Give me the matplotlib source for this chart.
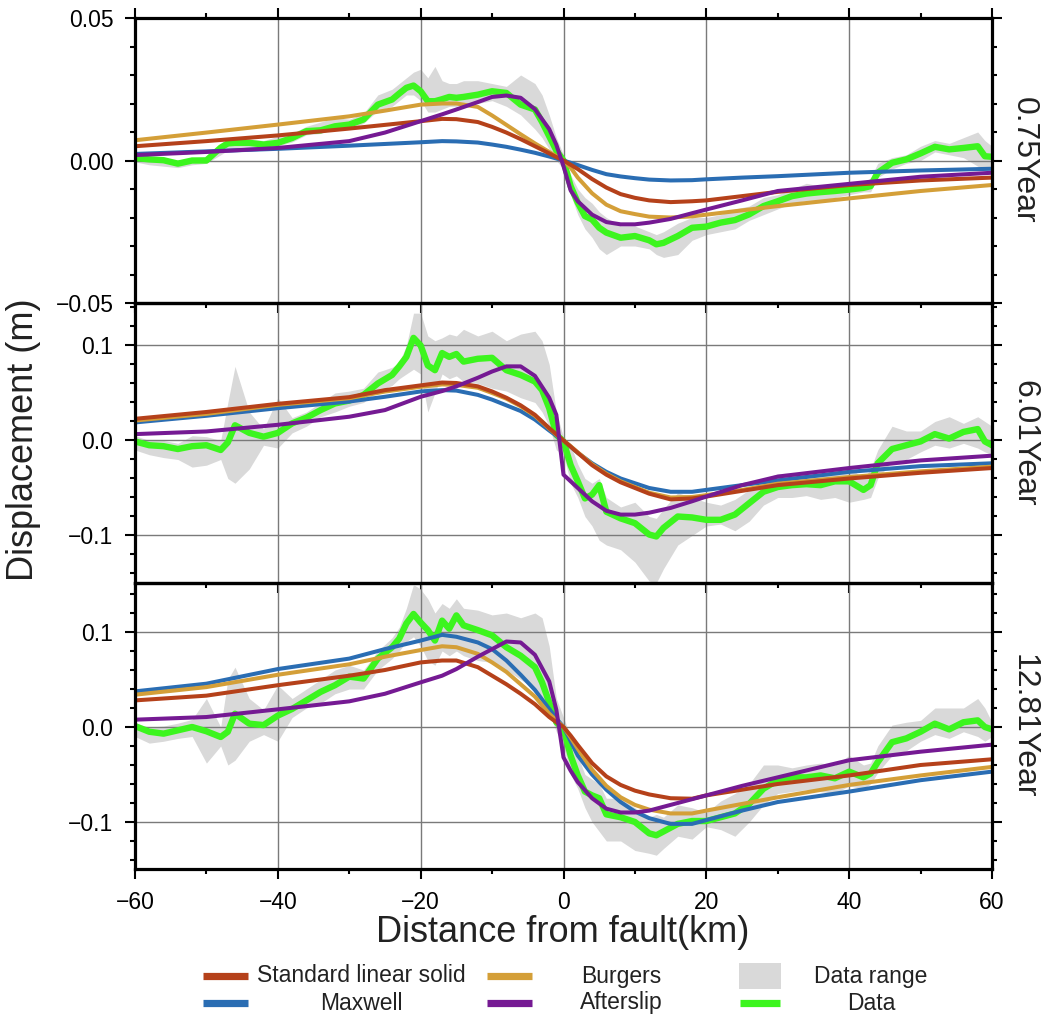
import numpy as np
import matplotlib
matplotlib.use("Agg")
import matplotlib.pyplot as plt
from matplotlib.ticker import MultipleLocator, FixedLocator, FuncFormatter
from matplotlib.lines import Line2D
from matplotlib.patches import Rectangle

plt.rcParams['font.family'] = ['Liberation Sans', 'DejaVu Sans']

# ---------------------------------------------------------------- model profiles
model_x = [-60, -50, -40, -30, -25, -20, -17, -15, -12, -10, -8, -6, -4, -2, -1, 0,
           1, 2, 4, 6, 8, 10, 12, 15, 18, 20, 25, 30, 40, 50, 60]

p1_sls = [0.0050, 0.0068, 0.0088, 0.0112, 0.0125, 0.0138, 0.0146, 0.0145, 0.0135, 0.0118,
          0.0098, 0.0075, 0.0050, 0.0025, 0.0012, 0.0, -0.0015, -0.0030, -0.0065, -0.0095,
          -0.0118, -0.0131, -0.0140, -0.0146, -0.0143, -0.0140, -0.0125, -0.0110, -0.0086,
          -0.0070, -0.0060]
p1_burgers = [0.0071, 0.0098, 0.0126, 0.0155, 0.0175, 0.0196, 0.0200, 0.0200, 0.0188, 0.0158,
              0.0125, 0.0092, 0.0060, 0.0030, 0.0015, 0.0, -0.0025, -0.0060, -0.0115, -0.0155,
              -0.0178, -0.0188, -0.0197, -0.0200, -0.0196, -0.0190, -0.0175, -0.0160, -0.0133,
              -0.0107, -0.0086]
p1_maxwell = [0.0023, 0.0032, 0.0041, 0.0052, 0.0058, 0.0064, 0.0068, 0.0067, 0.0063, 0.0056,
              0.0048, 0.0038, 0.0027, 0.0014, 0.0007, 0.0, -0.0008, -0.0016, -0.0033, -0.0048,
              -0.0056, -0.0062, -0.0067, -0.0070, -0.0069, -0.0066, -0.0060, -0.0055, -0.0043,
              -0.0035, -0.0029]
p1_afterslip = [0.0019, 0.0030, 0.0044, 0.0068, 0.0098, 0.0138, 0.0162, 0.0179, 0.0205, 0.0223,
                0.0228, 0.0220, 0.0180, 0.0110, 0.0055, -0.0020, -0.0105, -0.0143, -0.0190, -0.0216,
                -0.0224, -0.0224, -0.0218, -0.0205, -0.0185, -0.0172, -0.0140, -0.0107, -0.0082,
                -0.0057, -0.0043]

p2_sls = [0.0228, 0.0300, 0.0386, 0.0456, 0.0530, 0.0580, 0.0610, 0.0605, 0.0570, 0.0516,
          0.0450, 0.0370, 0.0270, 0.0130, 0.0065, 0.0, -0.0065, -0.0130, -0.0260, -0.0360,
          -0.0440, -0.0500, -0.0560, -0.0620, -0.0610, -0.0590, -0.0530, -0.0470, -0.0400,
          -0.0340, -0.0290]
p2_burgers = [0.0210, 0.0280, 0.0375, 0.0445, 0.0515, 0.0565, 0.0590, 0.0585, 0.0555, 0.0500,
              0.0440, 0.0360, 0.0260, 0.0125, 0.0060, 0.0, -0.0060, -0.0125, -0.0250, -0.0350,
              -0.0430, -0.0490, -0.0550, -0.0600, -0.0595, -0.0575, -0.0520, -0.0455, -0.0385,
              -0.0325, -0.0275]
p2_maxwell = [0.0190, 0.0260, 0.0340, 0.0410, 0.0460, 0.0516, 0.0530, 0.0525, 0.0480, 0.0430,
              0.0370, 0.0310, 0.0220, 0.0105, 0.0050, 0.0, -0.0065, -0.0130, -0.0240, -0.0330,
              -0.0400, -0.0450, -0.0500, -0.0540, -0.0540, -0.0520, -0.0470, -0.0420, -0.0330,
              -0.0270, -0.0240]
p2_afterslip = [0.0067, 0.0095, 0.0165, 0.0250, 0.0320, 0.0460, 0.0520, 0.0570, 0.0660, 0.0726,
                0.0780, 0.0780, 0.0680, 0.0450, 0.0270, -0.0360, -0.0430, -0.0500, -0.0640, -0.0740,
                -0.0780, -0.0780, -0.0760, -0.0710, -0.0640, -0.0590, -0.0470, -0.0380, -0.0290,
                -0.0210, -0.0160]

p3_sls = [0.0280, 0.0330, 0.0440, 0.0540, 0.0600, 0.0680, 0.0700, 0.0700, 0.0630, 0.0540,
          0.0450, 0.0350, 0.0240, 0.0105, 0.0050, 0.0, -0.0090, -0.0190, -0.0380, -0.0520,
          -0.0610, -0.0670, -0.0710, -0.0750, -0.0755, -0.0720, -0.0660, -0.0600, -0.0510,
          -0.0400, -0.0340]
p3_burgers = [0.0340, 0.0420, 0.0550, 0.0660, 0.0740, 0.0810, 0.0850, 0.0840, 0.0770, 0.0680,
              0.0580, 0.0450, 0.0320, 0.0140, 0.0070, 0.0, -0.0110, -0.0230, -0.0450, -0.0620,
              -0.0740, -0.0820, -0.0870, -0.0910, -0.0910, -0.0880, -0.0810, -0.0740, -0.0610,
              -0.0510, -0.0420]
p3_maxwell = [0.0375, 0.0456, 0.0610, 0.0720, 0.0820, 0.0910, 0.0970, 0.0950, 0.0890, 0.0820,
              0.0700, 0.0550, 0.0390, 0.0190, 0.0090, 0.0, -0.0150, -0.0300, -0.0500, -0.0660,
              -0.0790, -0.0890, -0.0960, -0.1020, -0.1020, -0.0980, -0.0880, -0.0790, -0.0680,
              -0.0560, -0.0470]
p3_afterslip = [0.0077, 0.0105, 0.0186, 0.0270, 0.0350, 0.0470, 0.0540, 0.0610, 0.0740, 0.0820,
                0.0900, 0.0890, 0.0760, 0.0480, 0.0180, -0.0320, -0.0460, -0.0580, -0.0750, -0.0860,
                -0.0900, -0.0900, -0.0880, -0.0820, -0.0760, -0.0720, -0.0620, -0.0530, -0.0350,
                -0.0260, -0.0186]

# ---------------------------------------------------------------- observed profiles
data_x = [-60, -58, -56, -54, -52, -50, -48, -47, -46, -44,
          -42, -40, -38, -36, -34, -32, -30, -28, -26, -24,
          -23, -22, -21, -20, -19, -18, -17, -16, -15, -14,
          -12, -10, -8, -6, -4, -3, -2, -1, 0, 1,
          2, 3, 4, 5, 6, 8, 10, 12, 13, 14,
          16, 18, 20, 22, 24, 26, 28, 30, 32, 34,
          36, 38, 40, 42, 43, 44, 46, 48, 50, 52,
          54, 56, 58, 59, 60]

p1_data = [0.0009, 0.0004, 0.0001, -0.0011, 0.0000, 0.0000, 0.0045, 0.0060, 0.0062, 0.0062,
           0.0056, 0.0062, 0.0079, 0.0103, 0.0106, 0.0120, 0.0126, 0.0144, 0.0196, 0.0214,
           0.0235, 0.0255, 0.0263, 0.0243, 0.0208, 0.0208, 0.0215, 0.0223, 0.0220, 0.0223,
           0.0231, 0.0243, 0.0237, 0.0196, 0.0179, 0.0135, 0.0085, 0.0035, 0.0000, -0.0090,
           -0.0148, -0.0195, -0.0207, -0.0236, -0.0253, -0.0271, -0.0265, -0.0280, -0.0294, -0.0289,
           -0.0265, -0.0236, -0.0232, -0.0218, -0.0209, -0.0189, -0.0160, -0.0143, -0.0125, -0.0116,
           -0.0111, -0.0107, -0.0102, -0.0096, -0.0090, -0.0043, -0.0008, 0.0004, 0.0025, 0.0048,
           0.0039, 0.0044, 0.0050, 0.0015, 0.0013]
p1_lo = [-0.0005, -0.0015, -0.0020, -0.0025, -0.0015, -0.0010, 0.0020, 0.0035, 0.0035, 0.0040,
         0.0045, 0.0050, 0.0065, 0.0090, 0.0095, 0.0110, 0.0110, 0.0130, 0.0175, 0.0190,
         0.0210, 0.0230, 0.0230, 0.0210, 0.0170, 0.0170, 0.0180, 0.0190, 0.0190, 0.0200,
         0.0200, 0.0210, 0.0190, 0.0160, 0.0110, 0.0080, 0.0040, 0.0000, -0.0030, -0.0120,
         -0.0190, -0.0240, -0.0270, -0.0310, -0.0330, -0.0300, -0.0300, -0.0310, -0.0330, -0.0340,
         -0.0330, -0.0280, -0.0260, -0.0250, -0.0240, -0.0210, -0.0190, -0.0170, -0.0150, -0.0140,
         -0.0140, -0.0130, -0.0120, -0.0110, -0.0110, -0.0060, -0.0030, -0.0010, 0.0000, 0.0030,
         0.0020, 0.0010, -0.0020, -0.0030, -0.0030]
p1_hi = [0.0015, 0.0010, 0.0010, 0.0000, 0.0010, 0.0015, 0.0060, 0.0075, 0.0075, 0.0075,
         0.0070, 0.0085, 0.0095, 0.0120, 0.0135, 0.0150, 0.0145, 0.0165, 0.0230, 0.0250,
         0.0270, 0.0290, 0.0310, 0.0320, 0.0290, 0.0330, 0.0280, 0.0270, 0.0270, 0.0280,
         0.0280, 0.0270, 0.0260, 0.0300, 0.0270, 0.0230, 0.0160, 0.0080, 0.0020, -0.0050,
         -0.0100, -0.0130, -0.0150, -0.0180, -0.0200, -0.0230, -0.0230, -0.0250, -0.0260, -0.0250,
         -0.0220, -0.0200, -0.0200, -0.0190, -0.0170, -0.0160, -0.0130, -0.0120, -0.0100, -0.0080,
         -0.0090, -0.0090, -0.0080, -0.0080, -0.0060, -0.0010, 0.0010, 0.0020, 0.0050, 0.0070,
         0.0060, 0.0080, 0.0100, 0.0070, 0.0050]

p2_data = [-0.001, -0.005, -0.006, -0.009, -0.006, -0.005, -0.010, -0.002, 0.016, 0.008,
           0.004, 0.008, 0.018, 0.024, 0.032, 0.039, 0.042, 0.048, 0.060, 0.069,
           0.078, 0.088, 0.108, 0.100, 0.079, 0.074, 0.092, 0.088, 0.091, 0.083,
           0.086, 0.087, 0.074, 0.069, 0.062, 0.053, 0.034, 0.006, -0.001, -0.026,
           -0.043, -0.061, -0.057, -0.047, -0.075, -0.082, -0.087, -0.099, -0.101, -0.092,
           -0.080, -0.081, -0.0835, -0.0835, -0.078, -0.066, -0.054, -0.049, -0.047, -0.046,
           -0.047, -0.043, -0.043, -0.052, -0.047, -0.024, -0.009, -0.005, -0.001, 0.0067,
           0.002, 0.009, 0.012, -0.001, -0.005]
p2_lo = [-0.010, -0.015, -0.018, -0.020, -0.028, -0.026, -0.020, -0.040, -0.045, -0.030,
         -0.005, -0.008, 0.008, 0.015, 0.025, 0.030, 0.036, 0.040, 0.052, 0.058,
         0.065, 0.070, 0.075, 0.070, 0.030, 0.050, 0.070, 0.065, 0.068, 0.062,
         0.060, 0.055, 0.052, 0.045, 0.040, 0.030, 0.015, -0.010, -0.015, -0.045,
         -0.060, -0.080, -0.090, -0.105, -0.110, -0.115, -0.128, -0.148, -0.150, -0.135,
         -0.110, -0.100, -0.090, -0.088, -0.095, -0.085, -0.068, -0.060, -0.060, -0.058,
         -0.062, -0.060, -0.065, -0.062, -0.060, -0.040, -0.022, -0.020, -0.012, -0.005,
         -0.008, -0.003, -0.008, -0.012, -0.015]
p2_hi = [0.005, 0.000, 0.000, -0.003, 0.005, 0.004, 0.000, 0.040, 0.078, 0.030,
         0.012, 0.045, 0.024, 0.030, 0.040, 0.050, 0.052, 0.055, 0.072, 0.077,
         0.082, 0.100, 0.134, 0.134, 0.110, 0.105, 0.108, 0.112, 0.110, 0.117,
         0.110, 0.115, 0.105, 0.112, 0.115, 0.105, 0.080, 0.030, 0.003, -0.005,
         -0.025, -0.040, -0.045, -0.040, -0.060, -0.070, -0.065, -0.080, -0.082, -0.072,
         -0.055, -0.060, -0.065, -0.068, -0.062, -0.052, -0.040, -0.035, -0.034, -0.035,
         -0.037, -0.030, -0.028, -0.040, -0.030, -0.010, 0.015, 0.010, 0.010, 0.020,
         0.025, 0.018, 0.025, 0.020, 0.015]

p3_data = [0.001, -0.005, -0.007, -0.0035, 0.000, -0.0045, -0.0105, -0.005, 0.014, 0.0035,
           0.002, 0.012, 0.019, 0.028, 0.037, 0.044, 0.053, 0.051, 0.072, 0.084,
           0.093, 0.109, 0.119, 0.110, 0.102, 0.091, 0.112, 0.1035, 0.1175, 0.107,
           0.102, 0.0965, 0.084, 0.075, 0.063, 0.047, 0.026, 0.005, -0.002, -0.030,
           -0.051, -0.068, -0.072, -0.075, -0.092, -0.095, -0.100, -0.112, -0.114, -0.110,
           -0.102, -0.099, -0.099, -0.095, -0.091, -0.081, -0.065, -0.056, -0.053, -0.053,
           -0.051, -0.054, -0.047, -0.053, -0.049, -0.037, -0.016, -0.012, -0.005, 0.0035,
           -0.0025, 0.005, 0.007, 0.000, -0.0025]
p3_lo = [-0.010, -0.017, -0.015, -0.012, -0.010, -0.038, -0.020, -0.040, -0.035, -0.015,
         -0.008, -0.015, 0.010, 0.020, 0.025, 0.035, 0.040, 0.040, 0.060, 0.072,
         0.080, 0.090, 0.095, 0.085, 0.070, 0.065, 0.080, 0.075, 0.080, 0.075,
         0.070, 0.068, 0.060, 0.050, 0.040, 0.030, 0.015, -0.005, -0.020, -0.050,
         -0.065, -0.085, -0.100, -0.110, -0.120, -0.120, -0.130, -0.133, -0.135, -0.128,
         -0.115, -0.118, -0.105, -0.108, -0.115, -0.100, -0.082, -0.070, -0.068, -0.066,
         -0.068, -0.070, -0.062, -0.065, -0.060, -0.048, -0.030, -0.025, -0.015, -0.008,
         -0.012, -0.005, -0.010, -0.015, -0.010]
p3_hi = [0.004, 0.000, 0.001, 0.004, 0.008, 0.030, 0.000, 0.050, 0.063, 0.030,
         0.018, 0.044, 0.030, 0.040, 0.050, 0.060, 0.065, 0.060, 0.080, 0.094,
         0.105, 0.125, 0.150, 0.145, 0.135, 0.120, 0.130, 0.125, 0.135, 0.125,
         0.123, 0.118, 0.120, 0.115, 0.120, 0.115, 0.085, 0.030, 0.010, -0.010,
         -0.030, -0.050, -0.055, -0.060, -0.075, -0.075, -0.085, -0.095, -0.092, -0.095,
         -0.082, -0.085, -0.090, -0.078, -0.070, -0.060, -0.040, -0.040, -0.043, -0.040,
         -0.038, -0.040, -0.030, -0.040, -0.038, -0.020, 0.002, 0.005, 0.007, 0.020,
         0.020, 0.020, 0.030, 0.020, 0.005]

epoch_labels = ["0.75Year", "6.01Year", "12.81Year"]
x_ticks = [-60, -40, -20, 0, 20, 40, 60]

# ---------------------------------------------------------------- styling
C_SLS = "#B5411A"
C_BURGERS = "#D49F38"
C_MAXWELL = "#2A6DB3"
C_AFTERSLIP = "#751A93"
C_DATA = "#3CF51E"
C_RANGE = "#D9D9D9"
GRID = "#7a7a7a"
MODEL_LW = 2.9

W, H = 1046, 1019
fig = plt.figure(figsize=(W / 100, H / 100), dpi=100)
fig.patch.set_facecolor("white")

def fx(px):
    return px / W

def fy(py):
    return 1 - py / H

left, right = 135, 992
panels = [
    dict(top=18, bot=303, ylim=(-0.05, 0.05), major=0.05, minor=0.01, fmt="{:.2f}",
         series=(p1_sls, p1_burgers, p1_maxwell, p1_afterslip, p1_data, p1_lo, p1_hi)),
    dict(top=303, bot=583, ylim=(-0.15, 0.1447), major=0.1, minor=0.02, fmt="{:.1f}",
         series=(p2_sls, p2_burgers, p2_maxwell, p2_afterslip, p2_data, p2_lo, p2_hi)),
    dict(top=583, bot=869, ylim=(-0.1495, 0.1516), major=0.1, minor=0.02, fmt="{:.1f}",
         series=(p3_sls, p3_burgers, p3_maxwell, p3_afterslip, p3_data, p3_lo, p3_hi)),
]

for i, p in enumerate(panels):
    ax = fig.add_axes([fx(left), fy(p["bot"]), fx(right - left), (p["bot"] - p["top"]) / H])
    ax.set_facecolor("none")
    sls, burg, maxw, aft, dat, lo, hi = p["series"]

    ax.fill_between(data_x, lo, hi, color=C_RANGE, lw=0, zorder=1)
    ax.plot(data_x, dat, color=C_DATA, lw=4.6, zorder=2.6)
    ax.plot(model_x, maxw, color=C_MAXWELL, lw=MODEL_LW, zorder=3)
    ax.plot(model_x, burg, color=C_BURGERS, lw=MODEL_LW, zorder=3.1)
    ax.plot(model_x, sls, color=C_SLS, lw=MODEL_LW, zorder=3.2)
    ax.plot(model_x, aft, color=C_AFTERSLIP, lw=MODEL_LW, zorder=3.3)

    ax.set_xlim(-60, 60)
    ax.set_ylim(*p["ylim"])
    ax.xaxis.set_major_locator(FixedLocator(x_ticks))
    ax.xaxis.set_minor_locator(MultipleLocator(10))
    ax.yaxis.set_major_locator(MultipleLocator(p["major"]))
    ax.yaxis.set_minor_locator(MultipleLocator(p["minor"]))
    fmt = p["fmt"]
    ax.yaxis.set_major_formatter(FuncFormatter(
        lambda v, pos, f=fmt: f.format(0.0 if abs(v) < 1e-9 else v).replace("-", "\u2212")))
    ax.xaxis.set_major_formatter(FuncFormatter(
        lambda v, pos: "{:d}".format(int(round(v))).replace("-", "\u2212")))

    ax.set_axisbelow("line")
    ax.grid(True, which="major", color=GRID, lw=1.0)

    ax.tick_params(which="both", direction="out", width=1.5, colors="black",
                   left=True, right=True, bottom=True, top=(i == 0),
                   labelleft=True, labelright=False, labelbottom=(i == 2), labeltop=False,
                   labelsize=16.5)
    ax.tick_params(which="major", length=7.5, pad=8)
    ax.tick_params(which="minor", length=3.8)
    for s in ax.spines.values():
        s.set_linewidth(2.3)
        s.set_zorder(4)

    fig.text(fx(1024), fy((p["top"] + p["bot"]) / 2), epoch_labels[i], rotation=-90,
             ha="center", va="center", fontsize=23, color="#222222")

fig.text(fx(24), fy(440), "Displacement (m)", rotation=90, ha="center", va="center",
         fontsize=26, color="#222222")
fig.text(fx(563), fy(942), "Distance from fault(km)", ha="center", va="baseline",
         fontsize=26, color="#222222")

# ---------------------------------------------------------------- legend
legend_items = [
    ("line", C_SLS, "Standard linear solid", 203, 248, 361, 976),
    ("line", C_MAXWELL, "Maxwell", 203, 248, 361, 1003),
    ("line", C_BURGERS, "Burgers", 487, 532, 621, 976),
    ("line", C_AFTERSLIP, "Afterslip", 487, 532, 621, 1003),
    ("box", C_RANGE, "Data range", 739, 781, 871, 976),
    ("line", C_DATA, "Data", 740, 780, 871, 1003),
]
for kind, color, label, x0, x1, xt, yc in legend_items:
    if kind == "line":
        fig.add_artist(Line2D([fx(x0), fx(x1)], [fy(yc), fy(yc)], color=color, lw=5.2,
                              solid_capstyle="butt", transform=fig.transFigure))
    else:
        fig.add_artist(Rectangle((fx(x0), fy(yc + 13)), fx(x1 - x0), 26 / H, color=color,
                                 lw=0, transform=fig.transFigure))
    fig.text(fx(xt), fy(yc), label, ha="center", va="center", fontsize=16.5, color="#222222")

fig.savefig("out.png", dpi=100, facecolor="white")
